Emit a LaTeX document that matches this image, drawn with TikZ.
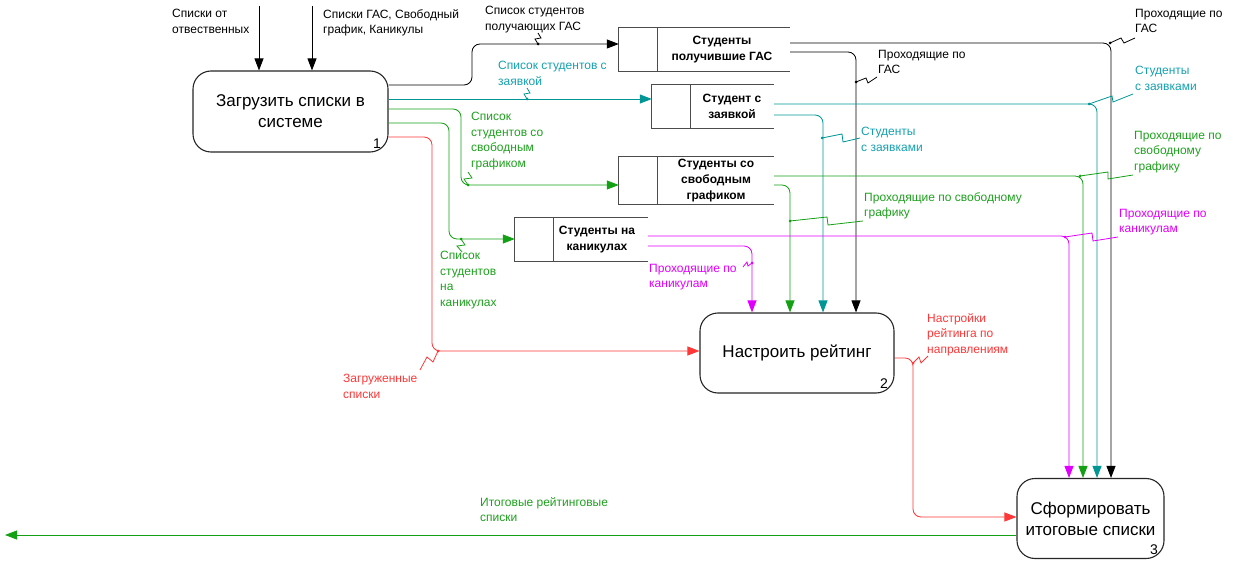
\documentclass[tikz,border=0pt]{standalone}
\usepackage{fontspec}
\setmainfont{Liberation Sans}
\usetikzlibrary{arrows.meta,calc}
\definecolor{cteal}{RGB}{0,150,150}
\definecolor{cgreen}{RGB}{20,160,20}
\definecolor{cmag}{RGB}{225,0,255}
\definecolor{cred}{RGB}{255,55,55}
\definecolor{tteal}{RGB}{20,160,175}
\definecolor{tgreen}{RGB}{30,160,30}
\begin{document}
\begin{tikzpicture}[x=1pt,y=-1pt,
  proc/.style={draw=black!85, line width=1.1pt, rounded corners=18pt, fill=white, inner sep=0pt, align=center, font=\fontsize{17}{21}\selectfont},
  storebox/.style={inner sep=0pt},
  storeline/.style={draw=black!70, line width=1.3pt},
  storetxt/.style={font=\bfseries\fontsize{12}{16}\selectfont, align=center, inner sep=0pt},
  lbl/.style={font=\fontsize{12}{15.5}\selectfont, align=left, anchor=north west, inner sep=0pt},
  num/.style={font=\fontsize{14}{16}\selectfont, inner sep=0pt},
  flow/.style={line width=0.85pt, rounded corners=8pt},
  arr/.style={flow, -{Triangle[length=12pt,width=9pt]}},
  sq/.style={line width=0.8pt},
]
\useasboundingbox (0,0) rectangle (1239,572);

% processes
\node[proc, minimum width=195pt, minimum height=81pt] (b1) at (290.5,111.5) {Загрузить списки в\\системе};
\node[proc, minimum width=194pt, minimum height=80pt] (b2) at (797,353) {Настроить рейтинг};
\node[proc, minimum width=147pt, minimum height=80pt] (b3) at (1090.5,518.5) {Сформировать\\итоговые списки};
\node[num] (n1) at (377,144) {1};
\node[num] (n2) at (884,384) {2};
\node[num] (n3) at (1154,550) {3};

% stores
\node[storebox, minimum width=171pt, minimum height=43pt] (sG) at (704.5,49.5) {};
\node[storebox, minimum width=122pt, minimum height=43pt] (sZ) at (713,106.5) {};
\node[storebox, minimum width=155pt, minimum height=47pt] (sF) at (696.5,180.5) {};
\node[storebox, minimum width=133pt, minimum height=43pt] (sK) at (581.5,239.5) {};
\foreach \s in {sG,sZ,sF,sK}{
  \draw[storeline] (\s.north east) -- (\s.north west) -- (\s.south west) -- (\s.south east);
  \draw[storeline] ($(\s.north west)+(39,0)$) -- ($(\s.south west)+(39,0)$);
}
\node[storetxt] (tG) at (722,50) {Студенты\\получившие ГАС};
\node[storetxt] (tZ) at (732,106.5) {Студент с\\заявкой};
\node[storetxt] (tF) at (716,180.5) {Студенты со\\свободным\\графиком};
\node[storetxt] (tK) at (597,240) {Студенты на\\каникулах};

% inputs
\coordinate (in1) at (259,6);
\coordinate (in2) at (312,6);
\draw[arr] (in1) -- (b1.north -| in1);
\draw[arr] (in2) -- (b1.north -| in2);

% box1 outputs
\draw[arr] (b1.east |- 0,85) -- (472,85) -- (472,44) -- (sG.west |- 0,44);
\draw[arr, cteal] (b1.east |- 0,99) -- (sZ.west |- 0,99);
\draw[arr, cgreen] (b1.east |- 0,109) -- (461,109) -- (461,185) -- (sF.west |- 0,185);
\draw[arr, cgreen] (b1.east |- 0,123) -- (449,123) -- (449,239) -- (sK.west |- 0,239);
\draw[arr, cred] (b1.east |- 0,137) -- (432,137) -- (432,351) -- (b2.west |- 0,351);

% store outputs
\draw[arr] (sG.east |- 0,43) -- (1111,43) -- (b3.north -| 1111,0);
\draw[arr] (sG.east |- 0,52) -- (856,52) -- (b2.north -| 856,0);
\draw[arr, cteal] (sZ.east |- 0,104) -- (1097,104) -- (b3.north -| 1097,0);
\draw[arr, cteal] (sZ.east |- 0,115) -- (823,115) -- (b2.north -| 823,0);
\draw[arr, cgreen] (sF.east |- 0,176) -- (1083,176) -- (b3.north -| 1083,0);
\draw[arr, cgreen] (sF.east |- 0,185) -- (790,185) -- (b2.north -| 790,0);
\draw[arr, cmag] (sK.east |- 0,236) -- (1069,236) -- (b3.north -| 1069,0);
\draw[arr, cmag] (sK.east |- 0,246) -- (752,246) -- (b2.north -| 752,0);

% box2 -> box3, box3 out
\draw[arr, cred] (b2.east |- 0,358) -- (913,358) -- (913,517) -- (b3.west |- 0,517);
\coordinate (outG) at (5,535);
\draw[arr, cgreen] (b3.west |- 0,535) -- (outG);

% squiggles
\fill (538,44) circle (1.5pt); \draw[sq] (538,44) -- (535,39) -- (541,38) -- (538,33);
\fill[cteal] (527,99) circle (1.5pt); \draw[sq, cteal] (527,99) -- (524,94) -- (530,93) -- (527,88);
\fill[cgreen] (468,185) circle (1.5pt); \draw[sq, cgreen] (468,185) -- (464,179) -- (472,178) -- (468,172);
\fill[cgreen] (461,239) circle (1.5pt); \draw[sq, cgreen] (461,239) -- (465,245) -- (457,246) -- (462,252);
\fill[cred] (438,351) circle (1.5pt); \draw[sq, cred] (438,351) -- (433,362) -- (427,357) -- (420,370);
\fill (856,82) circle (1.5pt); \draw[sq] (856,82) -- (866,78) -- (868,83) -- (877,77);
\fill (1110,43) circle (1.5pt); \draw[sq] (1110,43) -- (1121,38) -- (1124,43) -- (1135,38);
\fill[cteal] (1089,104) circle (1.5pt); \draw[sq, cteal] (1089,104) -- (1112,96) -- (1113,102) -- (1133,94);
\fill[cteal] (822,138) circle (1.5pt); \draw[sq, cteal] (822,138) -- (842,134) -- (843,142) -- (860,138);
\fill[cgreen] (1080,176) circle (1.5pt); \draw[sq, cgreen] (1080,176) -- (1108,172) -- (1108,179) -- (1133,175);
\fill[cgreen] (790,221) circle (1.5pt); \draw[sq, cgreen] (790,221) -- (827,217) -- (828,225) -- (863,221);
\fill[cmag] (1065,237) circle (1.5pt); \draw[sq, cmag] (1065,237) -- (1092,233) -- (1093,241) -- (1118,237);
\fill[cmag] (752,263) circle (1.5pt); \draw[sq, cmag] (752,263) -- (748,266) -- (747,262) -- (743,267);
\fill[cred] (913,363) circle (1.5pt); \draw[sq, cred] (913,363) -- (919,357) -- (921,363) -- (928,356);

% labels
\node[lbl] (l1) at (172,9) {Списки от\\отвественных};
\node[lbl] (l2) at (323,9) {Списки ГАС, Свободный\\график, Каникулы};
\node[lbl] (l3) at (485,6) {Список студентов\\получающих ГАС};
\node[lbl, text=tteal] (l4) at (498,61) {Список студентов с\\заявкой};
\node[lbl, text=tgreen] (l5) at (471,112) {Список\\студентов со\\свободным\\графиком};
\node[lbl, text=tgreen] (l6) at (440,251) {Список\\студентов\\на\\каникулах};
\node[lbl, text=cred] (l7) at (343,374) {Загруженные\\списки};
\node[lbl] (l8) at (878,50) {Проходящие по\\ГАС};
\node[lbl] (l9) at (1135,9) {Проходящие по\\ГАС};
\node[lbl, text=tteal] (l10) at (1135,66) {Студенты\\с заявками};
\node[lbl, text=tteal] (l11) at (861,127) {Студенты\\с заявками};
\node[lbl, text=tgreen] (l12) at (1134,131) {Проходящие по\\свободному\\графику};
\node[lbl, text=tgreen] (l13) at (864,192) {Проходящие по свободному\\графику};
\node[lbl, text=cmag] (l14) at (1119,209) {Проходящие по\\каникулам};
\node[lbl, text=cmag] (l15) at (649,264) {Проходящие по\\каникулам};
\node[lbl, text=cred] (l16) at (927,313) {Настройки\\рейтинга по\\направлениям};
\node[lbl, text=tgreen] (l17) at (480,497) {Итоговые рейтинговые\\списки};
\end{tikzpicture}
\end{document}
